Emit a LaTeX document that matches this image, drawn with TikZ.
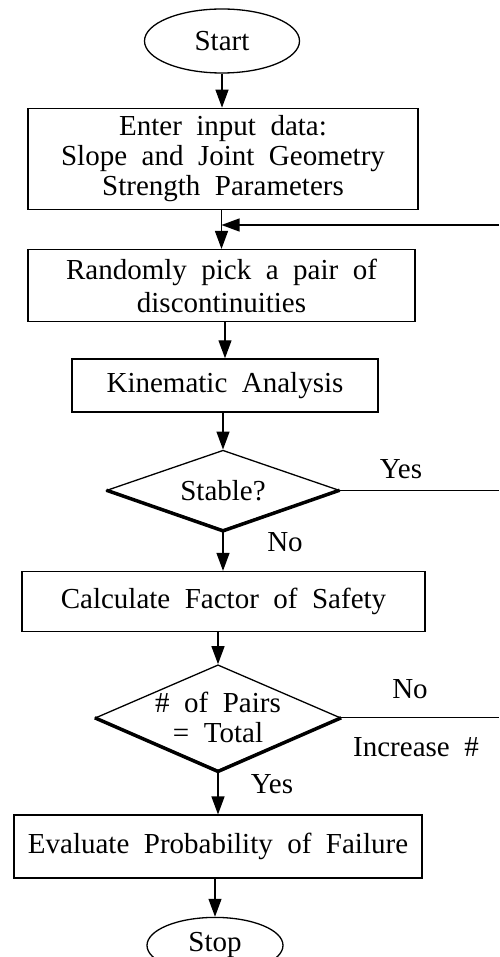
\documentclass[tikz,border=0pt]{standalone}
\usepackage{fontspec}
\setmainfont{Liberation Serif}[WordSpace=2]
\usetikzlibrary{arrows.meta,shapes,positioning}

\begin{document}
\begin{tikzpicture}[
        x=1pt, y=-1pt,
        >={Triangle[length=18pt,width=13pt]},
        every node/.style={font=\fontsize{29}{30}\selectfont, align=center},
        every path/.style={line width=1.3pt},
        process/.style={draw, inner sep=3pt},
        terminal/.style={draw, ellipse, inner sep=0pt},
        decision/.style={draw, diamond, inner sep=-5pt, aspect=2.5},
        lbl/.style={inner sep=0pt}
    ]
  \useasboundingbox (0,0) rectangle (499,957);

  % Nodes
  \node (start) [terminal, minimum width=155pt, minimum height=64pt] at (222,41) {Start};
  \node (input) [process, below=34pt of start, xshift=1pt, minimum width=390pt, minimum height=101pt]
        {Enter input data:\\Slope and Joint Geometry\\Strength Parameters};
  \node (pick) [process, below=39pt of input, xshift=-1.5pt, minimum width=387pt, minimum height=72pt]
        {Randomly pick a pair of\\[3pt]discontinuities};
  \node (kin) [process, below=36pt of pick, xshift=3.5pt, minimum width=306pt, minimum height=53pt]
        {Kinematic Analysis};
  \node (stable) [decision, below=37pt of kin, xshift=-2pt, minimum width=232pt, minimum height=80pt]
        {Stable?};
  \node (calc) [process, below=40pt of stable, xshift=0.5pt, minimum width=403pt, minimum height=60pt]
        {Calculate Factor of Safety};
  \node (pairs) [decision, below=32pt of calc, xshift=-5.5pt, minimum width=245pt, minimum height=106pt]
        {\# of Pairs\\= Total};
  \node (eval) [process, below=43pt of pairs, minimum width=408pt, minimum height=63pt]
        {Evaluate Probability of Failure};
  \node (stop) [terminal, below=38pt of eval, xshift=-3pt, minimum width=136pt, minimum height=56pt]
        {Stop};

  % Labels
  \node (yesA) [lbl] at (401,469) {Yes};
  \node (noA) [lbl] at (285,542) {No};
  \node (noB) [lbl] at (410,689) {No};
  \node (incr) [lbl] at (416,747) {Increase \#};
  \node (yesB) [lbl] at (272,784) {Yes};

  \coordinate (loopback) at (499,225);

  % Thick lower edges of the decisions
  \draw[line width=3.5pt] (stable.west) -- (stable.south) -- (stable.east);
  \draw[line width=3.5pt] (pairs.west) -- (pairs.south) -- (pairs.east);

  \draw[->] (start.south) -- (start.south |- input.north);
  \draw[->] (pick.north |- input.south) -- (pick.north);
  \draw[->] (loopback) -- (loopback -| pick.north);
  \draw[->] (kin.north |- pick.south) -- (kin.north);
  \draw[->] (stable.north |- kin.south) -- (stable.north);
  \draw[->] (stable.south) -- (stable.south |- calc.north);
  \draw[->] (pairs.north |- calc.south) -- (pairs.north);
  \draw[->] (pairs.south) -- (pairs.south |- eval.north);
  \draw[->] (stop.north |- eval.south) -- (stop.north);
  \draw (stable.east) -- (stable.east -| loopback);
  \draw (pairs.east) -- (pairs.east -| loopback);
\end{tikzpicture}
\end{document}
